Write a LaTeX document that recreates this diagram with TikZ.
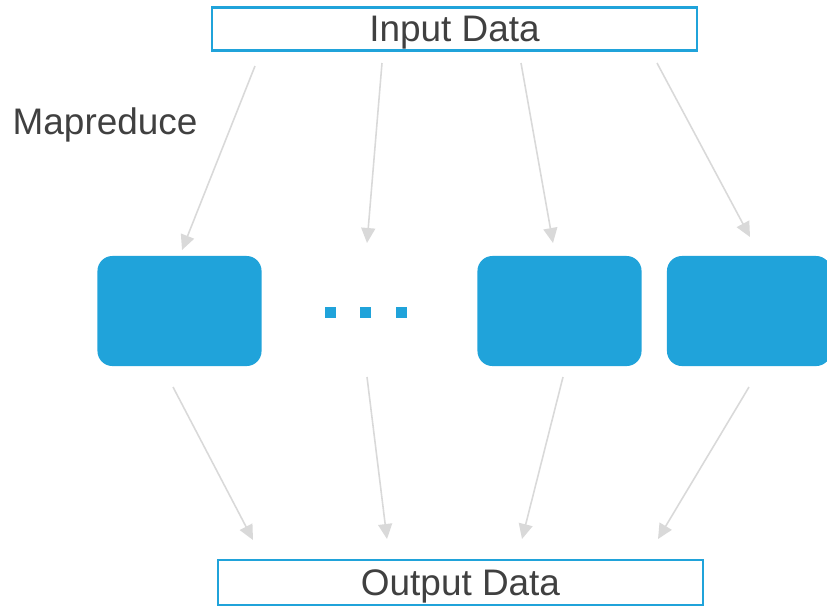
\documentclass[tikz,border=0pt]{standalone}
\usepackage{fontspec}
\setmainfont{Liberation Sans}
\usepackage{xcolor}
\usetikzlibrary{arrows.meta}
\definecolor{mrblue}{RGB}{32,163,218}
\definecolor{mrgray}{RGB}{217,217,217}
\definecolor{mrtext}{RGB}{64,64,64}

\begin{document}
\begin{tikzpicture}[x=0.01cm,y=-0.01cm,
  databox/.style={draw=mrblue,line width=0.6pt,minimum width=4.85cm,minimum height=0.43cm,inner sep=0pt,text depth=0pt,text=mrtext,font=\fontsize{10.5}{12}\selectfont},
  mapbox/.style={fill=mrblue,rounded corners=0.15cm,minimum width=1.64cm,minimum height=1.1cm,inner sep=0pt},
  mapdot/.style={fill=mrblue,minimum size=0.11cm,inner sep=0pt},
  flow/.style={draw=mrgray,line width=0.45pt,-{Triangle[length=0.15cm,width=0.14cm]}}]
\useasboundingbox (0,0) rectangle (827,608);
%
\node[databox] (input) at (454.5,29) {Input Data};
\node[databox,minimum height=0.45cm] (output) at (460.5,582.5) {Output Data};
\node[anchor=base west,inner sep=0pt,text=mrtext,font=\fontsize{10.5}{12}\selectfont] (title) at (12,134) {Mapreduce};
%
\node[mapbox] (map1) at (179.5,311) {};
\node[mapbox] (map3) at (559.5,311) {};
\node[mapbox] (map4) at (749,311) {};
\node[mapdot] (dot1) at (330.5,312.5) {};
\node[mapdot] (dot2) at (365.5,312.5) {};
\node[mapdot] (dot3) at (401.5,312.5) {};
%
\coordinate (in1) at (255,66);
\coordinate (in2) at (382,63);
\coordinate (in3) at (521,63);
\coordinate (in4) at (657,63);
\coordinate (to1) at (182,250);
\coordinate (to2) at (367,243);
\coordinate (to3) at (553,243);
\coordinate (to4) at (750,237);
\draw[flow] (in1) -- (to1);
\draw[flow] (in2) -- (to2);
\draw[flow] (in3) -- (to3);
\draw[flow] (in4) -- (to4);
%
\coordinate (out1) at (173,387);
\coordinate (out2) at (367,377);
\coordinate (out3) at (563,377);
\coordinate (out4) at (749,387);
\coordinate (res1) at (253,540);
\coordinate (res2) at (387,539);
\coordinate (res3) at (522,539);
\coordinate (res4) at (658,539);
\draw[flow] (out1) -- (res1);
\draw[flow] (out2) -- (res2);
\draw[flow] (out3) -- (res3);
\draw[flow] (out4) -- (res4);
\end{tikzpicture}
\end{document}
